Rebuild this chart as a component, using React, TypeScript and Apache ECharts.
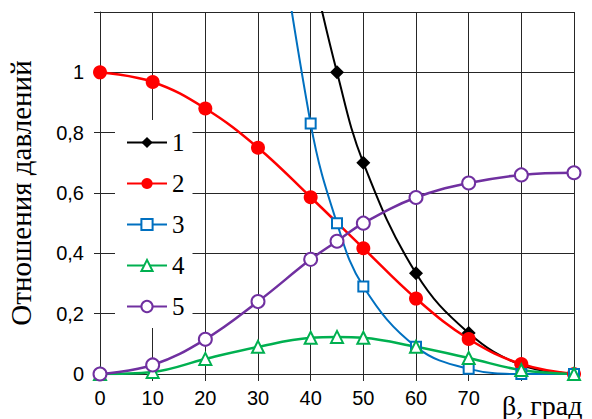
import React, { useEffect, useRef } from "react";
import * as echarts from "echarts";

const beta = [0, 10, 20, 30, 40, 45, 50, 60, 70, 80, 90];
const series1 = [null, null, null, null, 1.37, 1.0, 0.7, 0.334, 0.136, 0.03, 0];
const series2 = [1.0, 0.968, 0.88, 0.75, 0.586, null, 0.417, 0.25, 0.116, 0.033, 0];
const series3 = [null, null, null, 1.95, 0.83, 0.5, 0.29, 0.09, 0.017, 0, 0];
const series4 = [0, 0.007, 0.05, 0.09, 0.12, 0.123, 0.12, 0.09, 0.053, 0.013, 0];
const series5 = [0, 0.03, 0.115, 0.24, 0.38, 0.44, 0.5, 0.585, 0.633, 0.66, 0.667];
const seriesNames = ["1", "2", "3", "4", "5"];
const xTickLabels = ["0", "10", "20", "30", "40", "50", "60", "70"];
const yTickLabels = ["0", "0,2", "0,4", "0,6", "0,8", "1"];
const yTitle = "Отношения давлений";
const xTitle = "β, град";

const pairs = (vals: (number | null)[]) =>
  beta.map((b, i) => [b, vals[i] === null ? null : vals[i]]).filter((p) => p[1] !== null);

export default function App() {
  const ref = useRef<HTMLDivElement>(null);
  useEffect(() => {
    if (!ref.current) return;
    const chart = echarts.init(ref.current, null, { renderer: "svg" });
    const gridColor = "#262626";
    const serif = "'Liberation Serif', 'DejaVu Serif', serif";
    const mk = (
      name: string,
      vals: (number | null)[],
      color: string,
      symbol: string,
      symbolSize: number,
      lineWidth: number,
      hollow: boolean
    ) => ({
      name,
      type: "line",
      data: pairs(vals),
      smooth: 0.4,
      connectNulls: true,
      clip: true,
      color,
      symbol,
      symbolSize,
      showAllSymbol: true,
      lineStyle: { color, width: lineWidth },
      itemStyle: hollow
        ? { color, borderColor: color, borderWidth: 1.5 }
        : { color, borderColor: color, borderWidth: 0 },
    });
    chart.setOption({
      animation: false,
      backgroundColor: "#ffffff",
      grid: {
        left: 100,
        right: 18,
        top: 12,
        bottom: 45,
        containLabel: false,
        outerBoundsMode: "none",
      },
      xAxis: {
        type: "value",
        min: 0,
        max: 90,
        interval: 10,
        axisLine: { show: true, lineStyle: { color: gridColor, width: 1 } },
        axisTick: { show: true, inside: false, length: 7, lineStyle: { color: gridColor } },
        splitLine: { show: true, lineStyle: { color: gridColor, width: 1 } },
        axisLabel: {
          margin: 14,
          color: "#000",
          fontFamily: "Liberation Sans",
          fontSize: 20,
          formatter: (v: number) => {
            const i = Math.round(v / 10);
            return i < xTickLabels.length ? xTickLabels[i] : "";
          },
        },
      },
      yAxis: {
        type: "value",
        min: 0,
        max: 1.2,
        interval: 0.2,
        name: yTitle,
        nameLocation: "middle",
        nameRotate: 90,
        nameGap: 65,
        nameTextStyle: { fontFamily: serif, fontSize: 29, color: "#000" },
        axisLine: { show: true, lineStyle: { color: gridColor, width: 1 } },
        axisTick: { show: true, inside: false, length: 6, lineStyle: { color: gridColor } },
        splitLine: { show: true, lineStyle: { color: gridColor, width: 1 } },
        axisLabel: {
          margin: 16,
          color: "#000",
          fontFamily: "Liberation Sans",
          fontSize: 20,
          formatter: (v: number) => {
            const i = Math.round(v / 0.2);
            return i < yTickLabels.length ? yTickLabels[i] : "";
          },
        },
      },
      legend: {
        orient: "vertical",
        left: 115,
        top: 120,
        padding: [10, 8, 9, 11],
        backgroundColor: "#ffffff",
        itemWidth: 40,
        itemHeight: 14,
        itemGap: 16,
        textStyle: { fontFamily: serif, fontSize: 25, color: "#000" },
        data: seriesNames,
      },
      graphic: [
        {
          type: "text",
          left: 502,
          top: 391,
          style: { text: xTitle, font: "28px 'Liberation Serif', serif", fill: "#000" },
        },
      ],
      series: [
        mk(seriesNames[0], series1, "#000000", "diamond", 14, 2, false),
        mk(seriesNames[1], series2, "#ff0000", "circle", 14, 2.5, false),
        mk(seriesNames[2], series3, "#0070c0", "emptyRect", 10, 2, true),
        mk(seriesNames[3], series4, "#00b050", "emptyTriangle", 12, 2.5, true),
        mk(seriesNames[4], series5, "#7030a0", "emptyCircle", 13, 2.5, true),
      ],
    });
    return () => chart.dispose();
  }, []);
  return (
    <div
      ref={ref}
      style={{ position: "fixed", left: 0, top: 0, width: 592, height: 419, background: "#fff" }}
    />
  );
}
